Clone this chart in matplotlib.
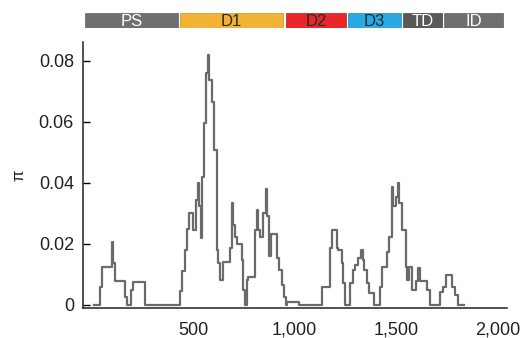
import matplotlib
matplotlib.use("Agg")
import matplotlib.pyplot as plt
from matplotlib.ticker import FuncFormatter

plt.rcParams['font.family'] = ['Liberation Sans', 'DejaVu Sans']

# Sliding-window nucleotide diversity (step positions, pi values)
positions = [11, 39, 51, 97, 104, 113, 163, 171, 192, 204, 261, 434, 446, 459, 470,
             480, 500, 513, 521, 528, 538, 544, 554, 561, 571, 577, 590, 603, 615,
             624, 632, 646, 681, 689, 697, 705, 717, 738, 747, 755, 763, 771, 804,
             812, 821, 829, 845, 857, 865, 875, 882, 911, 924, 936, 947, 957, 964,
             1023, 1133, 1174, 1183, 1207, 1215, 1232, 1240, 1248, 1273, 1286, 1297,
             1314, 1325, 1335, 1342, 1355, 1368, 1391, 1421, 1432, 1454, 1465, 1478,
             1487, 1498, 1508, 1515, 1528, 1548, 1556, 1565, 1577, 1597, 1610, 1618,
             1651, 1668, 1717, 1733, 1745, 1777, 1791, 1804, 1837]
pi_values = [0.0, 0.006, 0.0124, 0.0205, 0.0137, 0.0079, 0.0027, 0.0, 0.0049, 0.0074,
             0.0, 0.0045, 0.011, 0.018, 0.025, 0.0303, 0.0246, 0.0344, 0.0401, 0.0323,
             0.0219, 0.0421, 0.0596, 0.076, 0.082, 0.0738, 0.0664, 0.0508, 0.018,
             0.0137, 0.0082, 0.0142, 0.0186, 0.0333, 0.0262, 0.0224, 0.0199, 0.0148,
             0.0049, 0.0, 0.0082, 0.0093, 0.0246, 0.0312, 0.0246, 0.0224, 0.030, 0.038,
             0.029, 0.0159, 0.0232, 0.0153, 0.0115, 0.0066, 0.0027, 0.0, 0.0011, 0.0,
             0.006, 0.0186, 0.0246, 0.0186, 0.018, 0.0137, 0.0071, 0.0, 0.0071, 0.0115,
             0.0131, 0.0153, 0.018, 0.0148, 0.0115, 0.0071, 0.0038, 0.0, 0.006, 0.0126,
             0.0175, 0.0224, 0.0388, 0.0323, 0.0355, 0.0401, 0.0333, 0.0246, 0.0126,
             0.0082, 0.0126, 0.0049, 0.0077, 0.012, 0.0077, 0.0049, 0.0, 0.0044, 0.006,
             0.0098, 0.006, 0.0033, 0.0, 0.0]

# Domain annotation bar
domain_names = ['PS', 'D1', 'D2', 'D3', 'TD', 'ID']
domain_starts = [-35, 434, 957, 1264, 1533, 1737]
domain_ends = [423, 944, 1252, 1523, 1725, 2026]
domain_colors = ['#6f6f71', '#f2b233', '#e8262b', '#29a9e1', '#58585a', '#6f6f71']
domain_edges = ['#6f6f71', '#c9a13a', '#c92a2a', '#2a94c4', '#58585a', '#6f6f71']
domain_text_colors = ['white', '#2a2a2a', '#2a2a2a', '#2a2a2a', 'white', 'white']

x_ticks = [500, 1000, 1500, 2000]
y_ticks = [0, 0.02, 0.04, 0.06, 0.08]
x_limits = (-44, 2047)

fig = plt.figure(figsize=(5.25, 3.38), dpi=100)
ax = fig.add_axes([83/525, 1 - 308/338, (507-83)/525, (308-42)/338])

ax.step(positions, pi_values, where='post', color='#6a6a6a', lw=1.6)
ax.set_xlim(*x_limits)
ax.set_ylim(-0.001, 0.0862)
ax.set_xticks(x_ticks)
ax.set_yticks(y_ticks)
ax.xaxis.set_major_formatter(FuncFormatter(lambda v, p: f"{v:,.0f}"))
ax.yaxis.set_major_formatter(FuncFormatter(lambda v, p: "0" if abs(v) < 1e-12 else f"{v:.2f}"))
ax.tick_params(axis='x', length=0, pad=10, labelsize=13, labelcolor='#222222')
ax.tick_params(axis='y', direction='in', length=5, width=1, pad=6.5, labelsize=13, labelcolor='#222222')
for s in ['top', 'right']:
    ax.spines[s].set_visible(False)
for s in ['left', 'bottom']:
    ax.spines[s].set_linewidth(1.1)
    ax.spines[s].set_color('#222222')
ax.set_ylabel('π', fontsize=12, color='#222222', labelpad=9)

# Domain bar axes
dax = fig.add_axes([83/525, 1 - 28.3/338, (507-83)/525, 15/338])
dax.set_xlim(*x_limits)
dax.set_ylim(0, 1)
for name, s, e, c, ec, tc in zip(domain_names, domain_starts, domain_ends,
                                 domain_colors, domain_edges, domain_text_colors):
    dax.barh(0.5, e - s, left=s, height=1.0, color=c, edgecolor=ec, linewidth=0.6)
    dax.text((s + e) / 2, 0.45, name, ha='center', va='center', fontsize=12, color=tc)
dax.axis('off')

fig.savefig('out.png', dpi=100)
